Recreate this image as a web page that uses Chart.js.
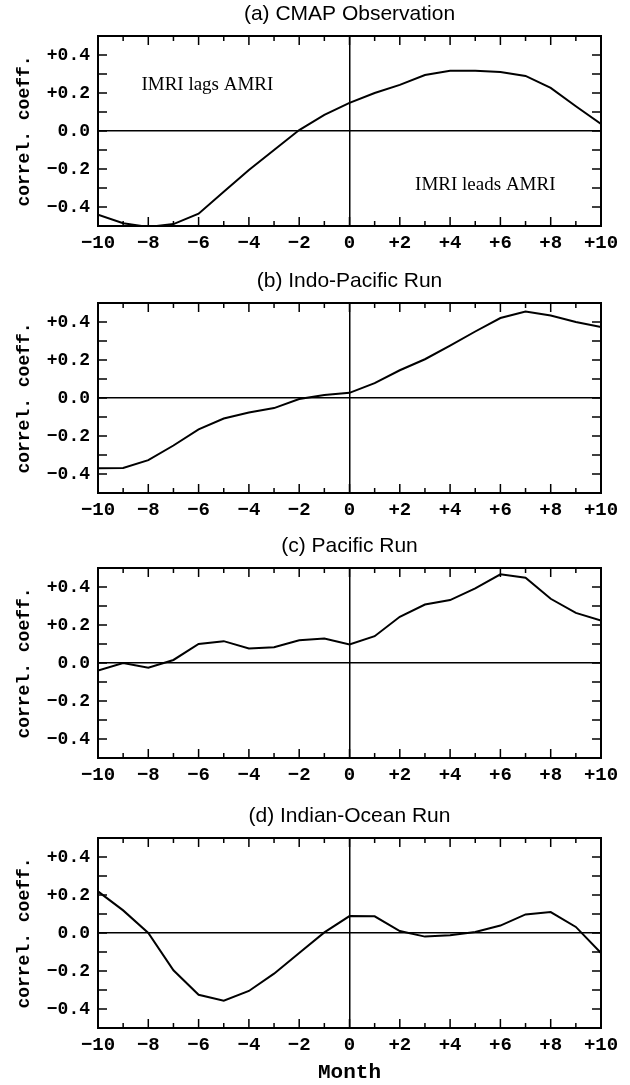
<!DOCTYPE html>
<html>
<head>
<meta charset="utf-8">
<script src="https://cdn.jsdelivr.net/npm/chart.js@4"></script>
<style>
  body { margin: 0; background: #fff; }
  #wrap { position: relative; width: 630px; height: 1085px; }
  canvas { position: absolute; left: 0; }
</style>
</head>
<body>
<div id="wrap">
  <canvas id="p0"></canvas>
  <canvas id="p1"></canvas>
  <canvas id="p2"></canvas>
  <canvas id="p3"></canvas>
</div>
<script>
// lag in months
const months = [-10, -9, -8, -7, -6, -5, -4, -3, -2, -1, 0, 1, 2, 3, 4, 5, 6, 7, 8, 9, 10];

// correlation coefficients
const cmapObs = [-0.44, -0.485, -0.505, -0.49, -0.435, -0.32, -0.205, -0.10, 0.005, 0.085, 0.148,
                 0.20, 0.243, 0.295, 0.317, 0.317, 0.31, 0.29, 0.227, 0.13, 0.037];
const indoPacific = [-0.37, -0.368, -0.327, -0.25, -0.165, -0.108, -0.076, -0.053, -0.005, 0.016, 0.027,
                     0.078, 0.146, 0.204, 0.276, 0.35, 0.421, 0.455, 0.434, 0.40, 0.373];
const pacificRun = [-0.04, 0.0, -0.025, 0.016, 0.10, 0.115, 0.076, 0.083, 0.12, 0.129, 0.097,
                    0.141, 0.243, 0.308, 0.331, 0.393, 0.467, 0.449, 0.338, 0.264, 0.224];
const indianOcean = [0.219, 0.119, 0.0, -0.196, -0.325, -0.356, -0.305, -0.214, -0.105, 0.003, 0.089,
                     0.088, 0.01, -0.019, -0.012, 0.005, 0.039, 0.098, 0.11, 0.032, -0.105];

const panelTitles = ['(a) CMAP Observation', '(b) Indo-Pacific Run', '(c) Pacific Run', '(d) Indian-Ocean Run'];
const panelSeries = [cmapObs, indoPacific, pacificRun, indianOcean];

// labelled ticks
const xLabelMonths = [-10, -8, -6, -4, -2, 0, 2, 4, 6, 8, 10];
const yLabelValues = [-0.4, -0.2, 0, 0.2, 0.4];

// text notes in panel (a), in data units
const noteText = ['IMRI lags AMRI', 'IMRI leads AMRI'];
const noteMonth = [-5.65, 5.4];
const noteValue = [0.24, -0.285];

const plotTops = [36, 303, 568, 838];
const monoFont = 'Liberation Mono';

function signed(v, digits) {
  const s = Math.abs(v).toFixed(digits);
  if (Math.abs(v) < 1e-9) return s;
  return (v > 0 ? '+' : '\u2212') + s;
}

const framePlugin = {
  id: 'frame',
  afterDatasetsDraw(chart, args, opts) {
    const {ctx, chartArea: a, scales: {x, y}} = chart;
    ctx.save();
    ctx.strokeStyle = '#000';
    ctx.lineWidth = 1.5;
    ctx.beginPath();
    x.ticks.forEach(t => {
      const px = x.getPixelForValue(t.value);
      const len = Math.round(t.value) % 2 === 0 ? 9 : 5;
      ctx.moveTo(px, a.bottom); ctx.lineTo(px, a.bottom - len);
      ctx.moveTo(px, a.top); ctx.lineTo(px, a.top + len);
    });
    y.ticks.forEach(t => {
      const py = y.getPixelForValue(t.value);
      ctx.moveTo(a.left, py); ctx.lineTo(a.left + 9, py);
      ctx.moveTo(a.right, py); ctx.lineTo(a.right - 9, py);
    });
    ctx.stroke();
    ctx.lineWidth = 2;
    ctx.strokeRect(a.left, a.top, a.right - a.left, a.bottom - a.top);
    if (opts.notes) {
      ctx.fillStyle = '#000';
      ctx.font = '19px "Liberation Serif"';
      ctx.textAlign = 'center';
      ctx.textBaseline = 'middle';
      noteText.forEach((t, i) => {
        ctx.fillText(t, x.getPixelForValue(noteMonth[i]), y.getPixelForValue(noteValue[i]));
      });
    }
    ctx.restore();
  }
};

function makePanel(i) {
  const last = i === panelTitles.length - 1;
  const canvas = document.getElementById('p' + i);
  const top = plotTops[i] - 36;
  const height = last ? 1085 - top : 265;
  canvas.width = 630;
  canvas.height = height;
  canvas.style.top = top + 'px';
  const axisH = height - 36 - 190;

  new Chart(canvas, {
    type: 'line',
    data: {
      datasets: [{
        data: months.map((m, k) => ({x: m, y: panelSeries[i][k]})),
        borderColor: '#000',
        borderWidth: 2,
        pointRadius: 0,
        tension: 0,
        fill: false
      }]
    },
    options: {
      responsive: false,
      animation: false,
      layout: {padding: {left: 0, right: 29, top: 0, bottom: 0}},
      plugins: {
        legend: {display: false},
        tooltip: {enabled: false},
        title: {
          display: true,
          text: panelTitles[i],
          fullSize: false,
          color: '#000',
          font: {family: 'Liberation Sans', size: 21, weight: 'normal', lineHeight: 1.2},
          padding: {top: 2, bottom: 36 - 2 - 25.2}
        },
        frame: {notes: i === 0}
      },
      scales: {
        x: {
          type: 'linear',
          min: -10,
          max: 10,
          afterFit(s) { s.height = axisH; s.paddingLeft = 0; s.paddingRight = 0; },
          ticks: {
            stepSize: 1,
            autoSkip: false,
            maxRotation: 0,
            padding: 6,
            color: '#000',
            font: {family: monoFont, size: 19, weight: 'bold'},
            callback: v => xLabelMonths.includes(Math.round(v)) ? signed(Math.round(v), 0) : ''
          },
          grid: {
            drawTicks: false,
            lineWidth: 1.5,
            color: c => (c.tick && Math.abs(c.tick.value) < 1e-9) ? '#000' : 'rgba(0,0,0,0)'
          },
          border: {display: false},
          title: {
            display: last,
            text: 'Month',
            color: '#000',
            font: {family: monoFont, size: 21, weight: 'bold'},
            padding: {top: 0, bottom: 0}
          }
        },
        y: {
          min: -0.5,
          max: 0.5,
          afterFit(s) { s.width = 98; s.paddingTop = 0; s.paddingBottom = 0; },
          ticks: {
            stepSize: 0.1,
            autoSkip: false,
            padding: 8,
            color: '#000',
            font: {family: monoFont, size: 18, weight: 'bold'},
            callback: v => {
              const r = Math.round(v * 10) / 10;
              return yLabelValues.some(l => Math.abs(l - r) < 1e-9) ? signed(r, 1) : '';
            }
          },
          grid: {
            drawTicks: false,
            lineWidth: 1.5,
            color: c => (c.tick && Math.abs(c.tick.value) < 1e-9) ? '#000' : 'rgba(0,0,0,0)'
          },
          border: {display: false},
          title: {
            display: true,
            text: 'correl. coeff.',
            color: '#000',
            font: {family: monoFont, size: 18, weight: 'bold'},
            padding: {top: 14, bottom: 0}
          }
        }
      }
    },
    plugins: [framePlugin]
  });
}

for (let i = 0; i < panelTitles.length; i++) makePanel(i);
</script>
</body>
</html>
